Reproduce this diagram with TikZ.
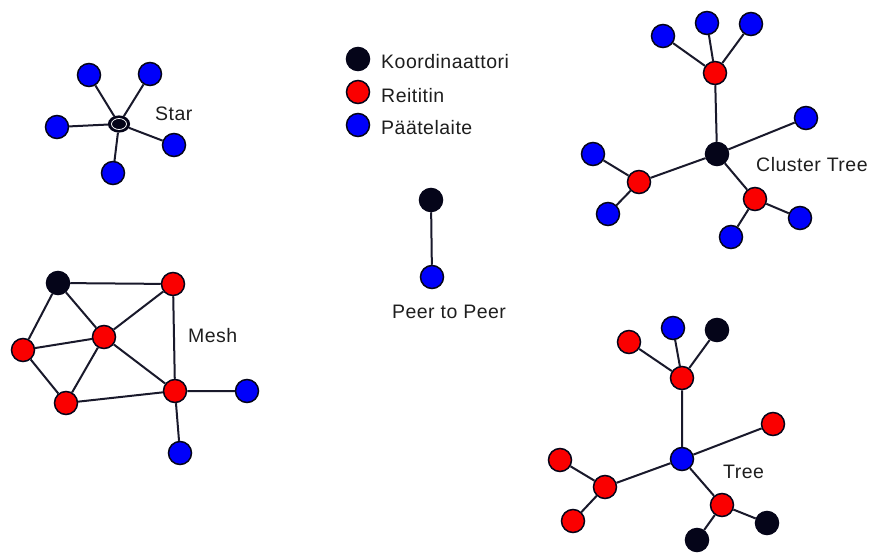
\documentclass[tikz,border=0pt]{standalone}
\usepackage{fontspec}
\setmainfont{Liberation Sans}
\usetikzlibrary{shapes.geometric}
\definecolor{nblue}{RGB}{0,0,250}
\definecolor{nred}{RGB}{250,0,0}
\definecolor{nblack}{RGB}{5,5,25}
\definecolor{txt}{RGB}{30,30,30}
\tikzset{
  nd/.style={circle,draw=nblack,line width=1.5pt,minimum size=23pt,inner sep=0pt},
  bl/.style={nd,fill=nblue},
  rd/.style={nd,fill=nred},
  bk/.style={nd,fill=nblack},
  lbl/.style={font=\fontsize{19.5}{22}\selectfont\addfontfeature{LetterSpace=2.5},text=txt,inner sep=0pt},
  ed/.style={line width=2pt,draw=nblack!92}
}
\begin{document}
\begin{tikzpicture}[x=1pt,y=-1pt]
\useasboundingbox (0,0) rectangle (870,554);
\fill[white] (0,0) rectangle (870,554);
% ---------- Star ----------
\node[ellipse,fill=nblack,draw=nblack,line width=1.2pt,minimum width=21pt,minimum height=16pt,inner sep=0pt] (sc) at (119,124) {};
\draw[white,line width=0.8pt] (sc.center) ellipse (7.5 and 5.5);
\node[bl] (s1) at (89,75) {};
\node[bl] (s2) at (150,74) {};
\node[bl] (s3) at (57,127) {};
\node[bl] (s4) at (174,145) {};
\node[bl] (s5) at (113,173) {};
\foreach \n in {s1,s2,s3,s4,s5} \draw[ed] (sc) -- (\n);
\node[lbl,anchor=west] (starl) at (155,114) {Star};
% ---------- Legend ----------
\node[bk] (lg1) at (358,59) {};
\node[rd] (lg2) at (358,92) {};
\node[bl] (lg3) at (358,125) {};
\node[lbl,anchor=west] (lt1) at (381,62) {Koordinaattori};
\node[lbl,anchor=west] (lt2) at (381,96) {Reititin};
\node[lbl,anchor=west] (lt3) at (381,128) {Päätelaite};
% ---------- Cluster Tree ----------
\node[bk] (cc) at (717,154) {};
\node[rd] (ct) at (715,73) {};
\node[bl] (ct1) at (663,36) {};
\node[bl] (ct2) at (707,23) {};
\node[bl] (ct3) at (751,24) {};
\node[bl] (cr) at (806,118) {};
\node[rd] (cl) at (639,182) {};
\node[bl] (cl1) at (593,154) {};
\node[bl] (cl2) at (608,214) {};
\node[rd] (cb) at (755,199) {};
\node[bl] (cb1) at (800,218) {};
\node[bl] (cb2) at (731,237) {};
\draw[ed] (cc) -- (ct) (ct) -- (ct1) (ct) -- (ct2) (ct) -- (ct3)
  (cc) -- (cr) (cc) -- (cl) (cl) -- (cl1) (cl) -- (cl2)
  (cc) -- (cb) (cb) -- (cb1) (cb) -- (cb2);
\node[lbl,anchor=west] (ctl) at (756,165) {Cluster Tree};
% ---------- Peer to Peer ----------
\node[bk] (p1) at (431,200) {};
\node[bl] (p2) at (432,277) {};
\draw[ed] (p1) -- (p2);
\node[lbl] (ppl) at (449,312) {Peer to Peer};
% ---------- Mesh ----------
\node[bk] (m1) at (58,283) {};
\node[rd] (m2) at (173,284) {};
\node[rd] (m3) at (104,337) {};
\node[rd] (m4) at (23,350) {};
\node[rd] (m5) at (66,403) {};
\node[rd] (m6) at (175,391) {};
\node[bl] (m7) at (247,391) {};
\node[bl] (m8) at (180,453) {};
\draw[ed] (m1) -- (m2) (m1) -- (m3) (m1) -- (m4) (m4) -- (m3) (m4) -- (m5)
  (m3) -- (m5) (m3) -- (m2) (m3) -- (m6) (m2) -- (m6) (m5) -- (m6)
  (m6) -- (m7) (m6) -- (m8);
\node[lbl,anchor=west] (ml) at (188,336) {Mesh};
% ---------- Tree ----------
\node[bl] (tc) at (682,459) {};
\node[rd] (tt) at (682,378) {};
\node[rd] (tt1) at (629,342) {};
\node[bl] (tt2) at (673,328) {};
\node[bk] (tt3) at (717,330) {};
\node[rd] (tr) at (773,424) {};
\node[rd] (tl) at (605,487) {};
\node[rd] (tl1) at (560,460) {};
\node[rd] (tl2) at (573,521) {};
\node[rd] (tb) at (722,505) {};
\node[bk] (tb1) at (767,523) {};
\node[bk] (tb2) at (697,540) {};
\draw[ed] (tc) -- (tt) (tt) -- (tt1) (tt) -- (tt2) (tt) -- (tt3)
  (tc) -- (tr) (tc) -- (tl) (tl) -- (tl1) (tl) -- (tl2)
  (tc) -- (tb) (tb) -- (tb1) (tb) -- (tb2);
\node[lbl,anchor=west] (tl0) at (723,472) {Tree};
\end{tikzpicture}
\end{document}
